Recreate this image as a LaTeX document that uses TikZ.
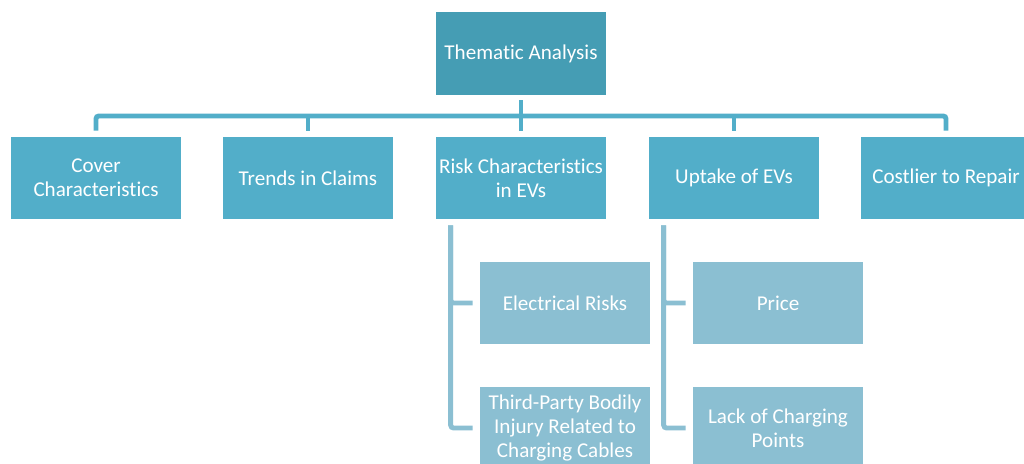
\documentclass[tikz,border=0pt]{standalone}
\usepackage{fontspec}
\setmainfont[Ligatures=NoCommon]{Carlito}
\usetikzlibrary{positioning}
\usetikzlibrary{calc}
\definecolor{topteal}{HTML}{459DB4}
\definecolor{mainteal}{HTML}{52AEC9}
\definecolor{subteal}{HTML}{8BBFD2}
\tikzstyle{topbox}=[rectangle,fill=topteal,text=white,minimum width=4.25cm,minimum height=2.075cm,inner sep=2pt,align=center,font=\fontsize{15}{17}\selectfont]
\tikzstyle{mainbox}=[rectangle,fill=mainteal,text=white,minimum width=4.25cm,minimum height=2.05cm,inner sep=2pt,align=center,font=\fontsize{15}{17}\selectfont]
\tikzstyle{subbox}=[rectangle,fill=subteal,text=white,minimum width=4.25cm,minimum height=2.05cm,inner sep=2pt,align=center,font=\fontsize{15}{17}\selectfont]
\tikzstyle{mainline} = [draw=mainteal,line width=3.5pt,rounded corners=2pt]
\tikzstyle{subline} = [draw=subteal,line width=3.5pt,rounded corners=2pt]

\begin{document}
\begin{tikzpicture}[x=0.025cm,y=-0.025cm]
    \useasboundingbox (0,0) rectangle (1024,464);
    % Top of the tree
    \node[topbox] (thematic) at (521,53.5) {Thematic Analysis};

    % First level of themes
    \foreach \pos/\name/\label in {{(96,178)/cover/{Cover\\Characteristics}}, {(308,178)/trends/{Trends in Claims}},
            {(521,178)/risk/{Risk Characteristics\\in EVs}}, {(734,178)/uptake/{Uptake of EVs}}, {(946,178)/repair/{Costlier to Repair}}}
            \node[mainbox] (\name) at \pos {\label};

    % Sub-themes
    \foreach \pos/\name/\label in {{(565,303)/elec/{Electrical Risks}}, {(565,428)/injury/{Third-Party Bodily\\Injury Related to\\Charging Cables}},
            {(778,303)/price/{Price}}, {(778,428)/points/{Lack of Charging\\Points}}}
            \node[subbox] (\name) at \pos {\label};

    % Connect the first level to the top
    \coordinate (bar) at (521,116);
    \draw[mainline] ($(thematic.south)+(0,5)$) -- ($(risk.north)+(0,-6)$);
    \draw[mainline] ($(cover.north)+(0,-6)$) |- (bar) -| ($(repair.north)+(0,-6)$);
    \foreach \name in {trends, uptake}
        \draw[mainline] ($(\name.north)+(0,-6)$) -- (\name.north |- bar);

    % Connect the sub-themes
    \foreach \source/\dest in {risk/elec, risk/injury, uptake/price, uptake/points}
        \draw[subline] ($(\source.south west)+(15,6)$) |- ($(\dest.west)+(-7,0)$);

\end{tikzpicture}
\end{document}
